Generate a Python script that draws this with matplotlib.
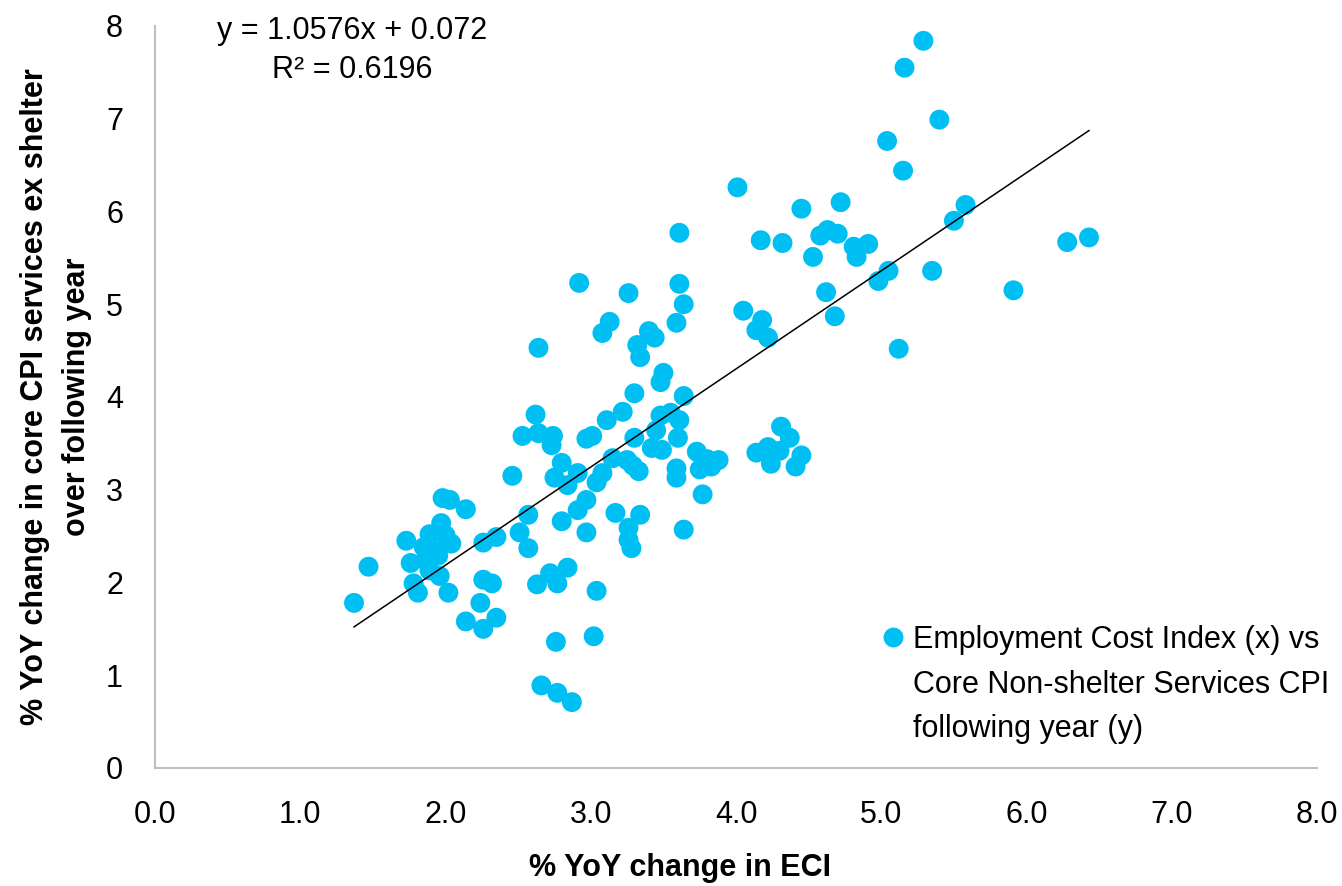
import matplotlib

matplotlib.use("Agg")
import matplotlib.pyplot as plt
from matplotlib.lines import Line2D
import numpy as np

plt.rcParams["font.family"] = ["Liberation Sans", "DejaVu Sans"]

# % YoY change in ECI (x) vs core non-shelter services CPI over following year (y)
eci = [
    1.37, 1.47, 1.73, 1.76, 1.78, 1.81, 1.85, 1.86, 1.89, 1.89, 1.93, 1.95, 1.96, 1.97,
    1.98, 2.00, 2.02, 2.03, 2.04, 2.14, 2.14, 2.24, 2.26, 2.26, 2.26, 2.32, 2.35, 2.35,
    2.46, 2.51, 2.53, 2.57, 2.57, 2.62, 2.63, 2.64, 2.64, 2.66, 2.72, 2.73, 2.74, 2.75,
    2.76, 2.77, 2.77, 2.80, 2.80, 2.84, 2.84, 2.87, 2.91, 2.91, 2.92, 2.97, 2.97, 2.97,
    3.01, 3.02, 3.04, 3.04, 3.08, 3.08, 3.11, 3.13, 3.15, 3.17, 3.22, 3.25, 3.26, 3.26,
    3.26, 3.28, 3.29, 3.30, 3.30, 3.32, 3.33, 3.34, 3.34, 3.40, 3.42, 3.44, 3.45, 3.48,
    3.48, 3.49, 3.50, 3.55, 3.59, 3.59, 3.59, 3.60, 3.61, 3.61, 3.61, 3.64, 3.64, 3.64,
    3.73, 3.75, 3.77, 3.80, 3.83, 3.88,
    4.14, 4.22, 4.24, 4.30, 4.31, 4.37, 4.41, 4.45,
    4.01, 4.05, 4.14, 4.17, 4.18, 4.22, 4.32, 4.45, 4.53, 4.58, 4.62, 4.63, 4.68, 4.70,
    4.72, 4.81, 4.83, 4.91, 4.98, 5.04, 5.05, 5.12, 5.15, 5.16, 5.29, 5.35, 5.40, 5.50,
    5.58, 5.91, 6.28, 6.43,
]
cpi = [
    1.78, 2.17, 2.45, 2.21, 1.99, 1.89, 2.38, 2.24, 2.52, 2.13, 2.34, 2.29, 2.07, 2.64,
    2.91, 2.51, 1.89, 2.89, 2.42, 2.79, 1.58, 1.78, 2.43, 2.03, 1.50, 1.99, 2.49, 1.62,
    3.15, 2.54, 3.58, 2.73, 2.37, 3.81, 1.98, 3.61, 4.53, 0.89, 2.10, 3.48, 3.58, 3.13,
    1.36, 1.99, 0.81, 3.29, 2.66, 3.05, 2.16, 0.71, 3.18, 2.78, 5.23, 3.55, 2.89, 2.54,
    3.58, 1.42, 3.08, 1.91, 3.18, 4.69, 3.75, 4.81, 3.34, 2.75, 3.84, 3.32, 5.12, 2.59,
    2.46, 2.37, 3.26, 4.04, 3.56, 4.56, 3.20, 4.43, 2.73, 4.71, 3.45, 4.64, 3.64, 4.16,
    3.80, 3.43, 4.26, 3.83, 4.80, 3.23, 3.13, 3.56, 5.77, 5.22, 3.75, 5.00, 4.01, 2.57,
    3.41, 3.22, 2.95, 3.33, 3.25, 3.32,
    3.40, 3.46, 3.28, 3.42, 3.68, 3.56, 3.25, 3.37,
    6.26, 4.93, 4.72, 5.69, 4.83, 4.64, 5.66, 6.03, 5.51, 5.74, 5.13, 5.80, 4.87, 5.76,
    6.10, 5.62, 5.51, 5.65, 5.25, 6.76, 5.36, 4.52, 6.44, 7.55, 7.84, 5.36, 6.99, 5.90,
    6.07, 5.15, 5.67, 5.72,
]

slope, intercept, r2 = 1.0576, 0.072, 0.6196
x_ticks = [0, 1, 2, 3, 4, 5, 6, 7, 8]
y_ticks = [0, 1, 2, 3, 4, 5, 6, 7, 8]
legend_lines = ["Employment Cost Index (x) vs", "Core Non-shelter Services CPI",
                "following year (y)"]

dot_color = "#00BFF2"
axis_gray = "#BFBFBF"

fig = plt.figure(figsize=(13.42, 8.86), dpi=100)
ax = fig.add_axes([0.1155, 0.1332, 0.8659, 0.8375])

ax.scatter(eci, cpi, s=205, color=dot_color, edgecolors="none", zorder=2)

line_x = np.array([min(eci), max(eci)])
ax.plot(line_x, slope * line_x + intercept, color="black", lw=1.1, zorder=3)

ax.set_xlim(0, 8)
ax.set_ylim(0, 8)
ax.set_xticks(x_ticks)
ax.set_xticklabels([f"{v:.1f}" for v in x_ticks])
ax.set_yticks(y_ticks)
ax.set_yticklabels([str(v) for v in y_ticks])
ax.tick_params(length=0, labelsize=22, pad=23)

for side in ("top", "right"):
    ax.spines[side].set_visible(False)
for side in ("left", "bottom"):
    ax.spines[side].set_color(axis_gray)
    ax.spines[side].set_linewidth(1.5)

fig.text(680 / 1342, 1 - 868 / 886, "% YoY change in ECI", ha="center", va="center",
         fontsize=22, fontweight="bold")
fig.text(56 / 1342, 1 - 397 / 886,
         "% YoY change in core CPI services ex shelter\nover following year",
         rotation=90, ha="center", va="center", fontsize=22, fontweight="bold",
         multialignment="center", linespacing=1.5)

fig.text(352 / 1342, 1 - 16 / 886, f"y = {slope}x + {intercept}\nR² = {r2}",
         ha="center", va="top", fontsize=22, linespacing=1.4)

# legend: marker sits on the first line of a three-line label
handles = [Line2D([], [], linestyle="none", marker="o", markersize=14.3,
                  markerfacecolor=dot_color, markeredgecolor="none")]
handles += [Line2D([], [], linestyle="none", marker=None) for _ in legend_lines[1:]]
ax.legend(handles, legend_lines, loc="upper left",
          bbox_to_anchor=(878 / 1342, 1 - 625 / 886), bbox_transform=fig.transFigure,
          frameon=False, fontsize=22, handletextpad=0.15, borderpad=0,
          borderaxespad=0, handlelength=1.0, labelspacing=0.48)

fig.savefig("out.png", dpi=100)
